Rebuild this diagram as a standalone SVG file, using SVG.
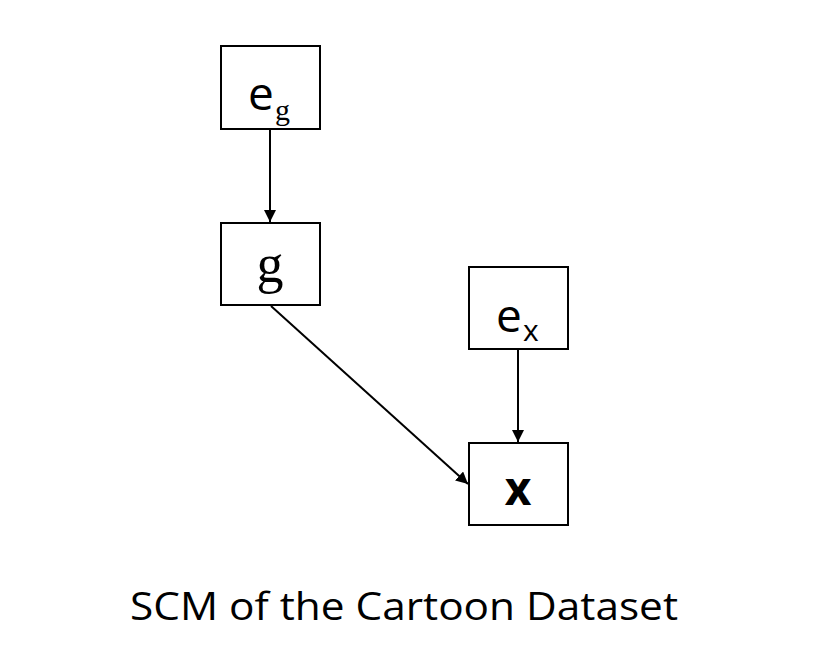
<svg xmlns="http://www.w3.org/2000/svg" width="836" height="670" viewBox="0 0 836 670">
<style>
.box{fill:#fff;stroke:#000;stroke-width:2}
.lbl{font-family:"Open Sans","Liberation Sans",sans-serif;fill:#000}
.serif{font-family:"Liberation Serif",serif}
.edge{stroke:#000;stroke-width:2;fill:none;marker-end:url(#ah)}
</style>
<defs>
<marker id="ah" viewBox="0 0 10 10" refX="10" refY="5" markerWidth="6" markerHeight="6" markerUnits="strokeWidth" orient="auto">
<path d="M0,0 L10,5 L0,10 z" fill="#000"/>
</marker>
</defs>
<rect width="836" height="670" fill="#fff"/>
<g id="connectors">
<line class="edge" x1="270" y1="130" x2="270" y2="222"/>
<line class="edge" x1="271" y1="306" x2="468" y2="484"/>
<line class="edge" x1="518" y1="350" x2="518" y2="442"/>
</g>
<g id="node-eg">
<rect class="box" x="221" y="46" width="99" height="83"/>
<text class="lbl" x="248" y="110" font-size="46">e</text>
<text class="lbl serif" x="275" y="120" font-size="30">g</text>
</g>
<g id="node-g">
<rect class="box" x="221" y="223" width="99" height="82"/>
<text class="lbl serif" x="270" y="282" font-size="54" text-anchor="middle">g</text>
</g>
<g id="node-ex">
<rect class="box" x="469" y="267" width="99" height="82"/>
<text class="lbl" x="496" y="332" font-size="46">e</text>
<text class="lbl" x="523" y="341" font-size="30">x</text>
</g>
<g id="node-x">
<rect class="box" x="469" y="443" width="99" height="82"/>
<text class="lbl" x="518" y="505" font-size="46" font-weight="bold" text-anchor="middle">x</text>
</g>
<text class="lbl" x="404" y="620" font-size="39" text-anchor="middle" textLength="548" lengthAdjust="spacingAndGlyphs">SCM of the Cartoon Dataset</text>
</svg>
